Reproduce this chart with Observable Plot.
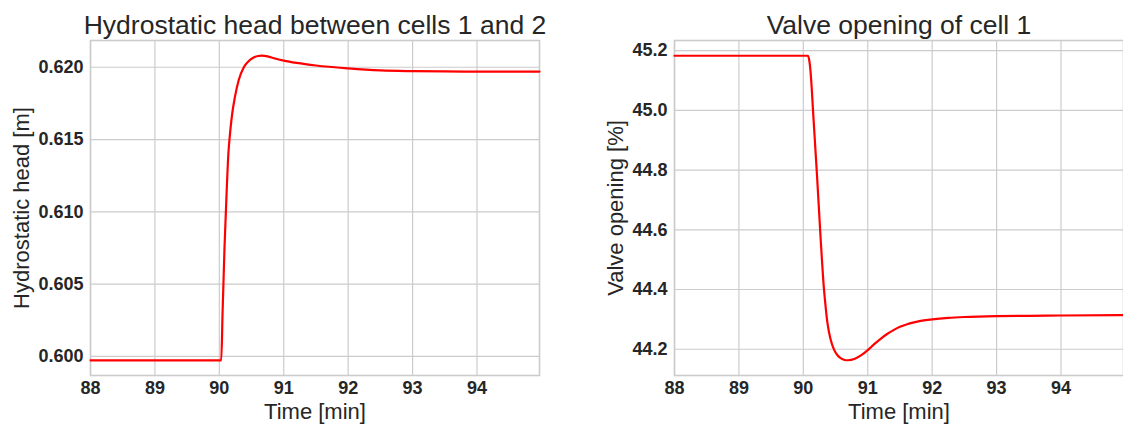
<!DOCTYPE html>
<html>
<head>
<meta charset="utf-8">
<script src="https://cdn.jsdelivr.net/npm/d3@7"></script>
<script src="https://cdn.jsdelivr.net/npm/@observablehq/plot@0.6"></script>
<style>
  html, body { margin: 0; padding: 0; background: #fff; }
  #wrap { position: relative; width: 1123px; height: 428px; overflow: hidden; background: #fff; }
  #left, #right { position: absolute; top: 0; }
  #left { left: 0; }
  #right { left: 563px; }
</style>
</head>
<body>
<div id="wrap"><div id="left"></div><div id="right"></div></div>
<script>
// ---- Data ----
const xTicks = [88, 89, 90, 91, 92, 93, 94];
const leftYTicks = [0.600, 0.605, 0.610, 0.615, 0.620];
const rightYTicks = [44.2, 44.4, 44.6, 44.8, 45.0, 45.2];

const leftTitle = "Hydrostatic head between cells 1 and 2";
const rightTitle = "Valve opening of cell 1";
const xLabel = "Time [min]";
const leftYLabel = "Hydrostatic head [m]";
const rightYLabel = "Valve opening [%]";

const headTime = [88, 89, 90, 90.03, 90.05, 90.08, 90.11, 90.14, 90.17, 90.20, 90.24, 90.30, 90.38, 90.45, 90.52, 90.60, 90.66, 90.75, 90.85, 91.0, 91.2, 91.5, 92.0, 92.5, 93.0, 93.5, 94.0, 94.97];
const headValue = [0.59973, 0.59973, 0.59973, 0.59973, 0.6030, 0.6075, 0.6110, 0.6140, 0.6156, 0.6168, 0.6179, 0.6191, 0.6200, 0.62040, 0.62064, 0.62078, 0.62080, 0.62075, 0.62062, 0.62046, 0.62030, 0.62012, 0.61992, 0.61978, 0.61973, 0.61971, 0.61970, 0.61970];

const valveTime = [88, 89, 90, 90.07, 90.09, 90.11, 90.13, 90.15, 90.17, 90.19, 90.21, 90.23, 90.25, 90.27, 90.29, 90.31, 90.34, 90.37, 90.40, 90.44, 90.48, 90.53, 90.58, 90.63, 90.69, 90.8, 90.9, 91.0, 91.1, 91.2, 91.3, 91.4, 91.5, 91.6, 91.7, 91.8, 92.0, 92.25, 92.5, 93.0, 93.5, 94.0, 94.97];
const valveValue = [45.183, 45.183, 45.183, 45.183, 45.170, 45.135, 45.075, 45.000, 44.930, 44.860, 44.790, 44.715, 44.640, 44.565, 44.495, 44.430, 44.355, 44.295, 44.255, 44.220, 44.197, 44.180, 44.170, 44.165, 44.163, 44.168, 44.180, 44.197, 44.217, 44.235, 44.251, 44.264, 44.275, 44.283, 44.289, 44.294, 44.300, 44.305, 44.308, 44.311, 44.312, 44.313, 44.314];

const headData = headTime.map((t, i) => ({t, v: headValue[i]}));
const valveData = valveTime.map((t, i) => ({t, v: valveValue[i]}));

const gridColor = "#cccccc";
const textColor = "#262626";
const fontFamily = "'Liberation Sans', Arial, Helvetica, sans-serif";

function panel({data, yDomain, yTicks, yFormat, title, yLabel, marginLeft, marginRight, yLabelDx}) {
  return Plot.plot({
    width: 560,
    height: 428,
    marginLeft,
    marginRight,
    marginTop: 40,
    marginBottom: 53,
    style: {fontFamily, fontSize: "18px", fontWeight: "bold", color: textColor, background: "#fff", overflow: "visible"},
    x: {domain: [88, 94.97]},
    y: {domain: yDomain},
    marks: [
      Plot.gridX(xTicks, {stroke: gridColor, strokeOpacity: 1, strokeWidth: 1.2}),
      Plot.gridY(yTicks, {stroke: gridColor, strokeOpacity: 1, strokeWidth: 1.2}),
      Plot.frame({stroke: gridColor, strokeWidth: 1.6}),
      Plot.axisX(xTicks, {tickSize: 0, tickPadding: 6, tickFormat: "d", label: null, fontSize: 18, fontWeight: "bold", fill: textColor}),
      Plot.axisY(yTicks, {tickSize: 0, tickPadding: 7, tickFormat: yFormat, label: null, fontSize: 18, fontWeight: "bold", fill: textColor}),
      Plot.line(data, {x: "t", y: "v", stroke: "#ff0000", strokeWidth: 2.2, curve: "monotone-x"}),
      Plot.text([title], {frameAnchor: "top", dy: -15, lineAnchor: "middle", textAnchor: "middle", fontSize: 26.5, fontWeight: "normal", fill: textColor}),
      Plot.text([xLabel], {frameAnchor: "bottom", dy: 36, lineAnchor: "middle", textAnchor: "middle", fontSize: 22, fontWeight: "normal", fill: textColor}),
      Plot.text([yLabel], {frameAnchor: "left", dx: yLabelDx, rotate: -90, lineAnchor: "middle", textAnchor: "middle", fontSize: 22, fontWeight: "normal", fill: textColor})
    ]
  });
}

document.getElementById("left").appendChild(panel({
  data: headData,
  yDomain: [0.59868, 0.62185],
  yTicks: leftYTicks,
  yFormat: ".3f",
  title: leftTitle,
  yLabel: leftYLabel,
  marginLeft: 90,
  marginRight: 21,
  yLabelDx: -69
}));

document.getElementById("right").appendChild(panel({
  data: valveData,
  yDomain: [44.112, 45.234],
  yTicks: rightYTicks,
  yFormat: ".1f",
  title: rightTitle,
  yLabel: rightYLabel,
  marginLeft: 111,
  marginRight: 0,
  yLabelDx: -59
}));
</script>
</body>
</html>
